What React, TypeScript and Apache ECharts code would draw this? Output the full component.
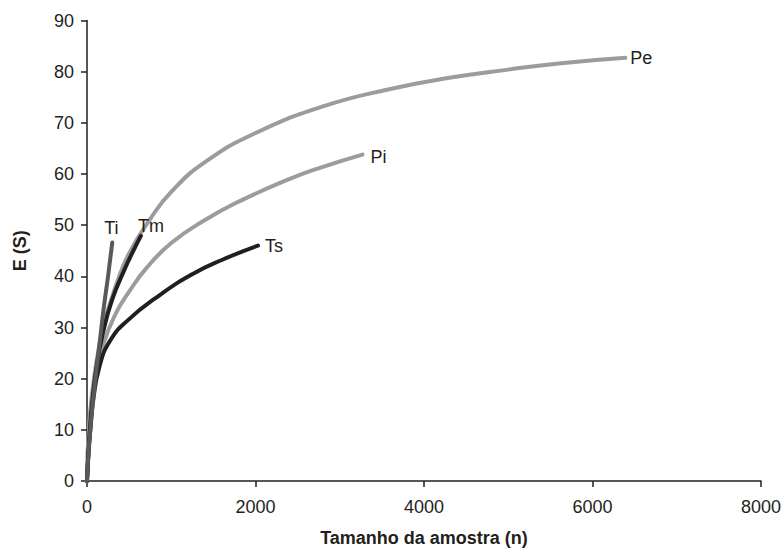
import React, { useEffect, useRef } from "react";
import * as echarts from "echarts";

const xTicks = [0, 2000, 4000, 6000, 8000];
const yTicks = [0, 10, 20, 30, 40, 50, 60, 70, 80, 90];

const peX = [0, 30, 100, 200, 350, 500, 750, 1000, 1400, 2000, 2800, 3600, 4300, 5000, 5600, 6390];
const peY = [0, 12, 22, 30.5, 38.5, 44.5, 51.2, 56.5, 62.3, 68, 73.2, 76.6, 78.8, 80.4, 81.6, 82.7];

const piX = [0, 30, 100, 200, 350, 500, 700, 1000, 1400, 1800, 2400, 2800, 3270];
const piY = [0, 11, 20, 27, 33, 37, 41.5, 46.5, 51, 54.6, 59, 61.4, 63.8];

const tsX = [0, 20, 40, 75, 150, 270, 470, 860, 1260, 1600, 2030];
const tsY = [0, 6, 10, 16, 22.5, 27.3, 31.2, 36.3, 40.5, 43.2, 46];

const tiX = [0, 20, 50, 100, 150, 200, 250, 300];
const tiY = [0, 6, 12, 20, 27, 34, 40, 46.6];

const tmX = [0, 30, 60, 115, 190, 300, 450, 550, 640];
const tmY = [0, 9, 15, 22.5, 29, 35.5, 41.5, 45, 47.9];

const pair = (xs: number[], ys: number[]) => xs.map((x, i) => [x, ys[i]]);

const FONT = "'Liberation Sans', Arial, sans-serif";
const INK = "#231f20";

function mk(name: string, xs: number[], ys: number[], color: string, offset: number[], z: number) {
  return {
    name,
    type: "line",
    data: pair(xs, ys),
    smooth: 0.5,
    showSymbol: false,
    symbol: "none",
    z,
    lineStyle: { color, width: 4, cap: "round" },
    endLabel: {
      show: true,
      formatter: name,
      color: INK,
      fontFamily: FONT,
      fontSize: 18,
      distance: 5,
      offset,
    },
  };
}

export default function App() {
  const ref = useRef<HTMLDivElement>(null);
  useEffect(() => {
    document.body.style.margin = "0";
    if (!ref.current) return;
    const chart = echarts.init(ref.current, null, { renderer: "svg" });
    chart.setOption({
      animation: false,
      backgroundColor: "#ffffff",
      grid: { left: 87, right: 22, top: 20.5, bottom: 68.5, containLabel: false },
      xAxis: {
        type: "value",
        min: xTicks[0],
        max: xTicks[xTicks.length - 1],
        interval: 2000,
        name: "Tamanho da amostra (n)",
        nameLocation: "middle",
        nameGap: 48,
        nameTextStyle: { fontFamily: FONT, fontSize: 18, fontWeight: "bold", color: INK },
        axisLine: { show: true, onZero: false, lineStyle: { color: INK, width: 1.5 } },
        axisTick: { show: true, inside: false, length: 6, lineStyle: { color: INK, width: 1.5 } },
        axisLabel: { fontFamily: FONT, fontSize: 18, color: INK, margin: 17, formatter: (v: number) => String(v) },
        splitLine: { show: false },
      },
      yAxis: {
        type: "value",
        min: yTicks[0],
        max: yTicks[yTicks.length - 1],
        interval: 10,
        name: "E (S)",
        nameLocation: "middle",
        nameGap: 58,
        nameTextStyle: { fontFamily: FONT, fontSize: 18, fontWeight: "bold", color: INK },
        axisLine: { show: true, onZero: false, lineStyle: { color: INK, width: 1.5 } },
        axisTick: { show: true, inside: false, length: 6, lineStyle: { color: INK, width: 1.5 } },
        axisLabel: { fontFamily: FONT, fontSize: 18, color: INK, margin: 13, formatter: (v: number) => String(v) },
        splitLine: { show: false },
      },
      series: [
        mk("Pe", peX, peY, "#9c9c9e", [0, 0], 2),
        mk("Pi", piX, piY, "#9c9c9e", [3, 2], 2),
        mk("Ts", tsX, tsY, INK, [2, 0], 3),
        mk("Tm", tmX, tmY, INK, [-8, -10], 3),
        mk("Ti", tiX, tiY, "#59595b", [-13, -15], 4),
      ],
    });
    return () => chart.dispose();
  }, []);
  return <div ref={ref} style={{ width: 784, height: 552 }} />;
}
